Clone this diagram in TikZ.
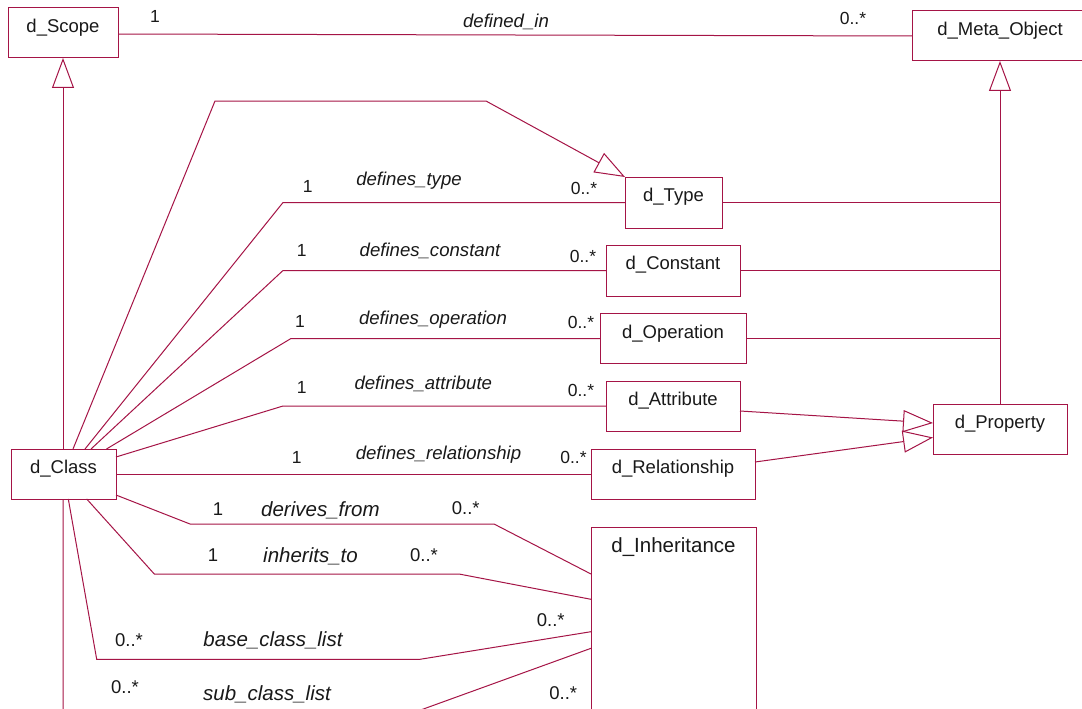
\documentclass[tikz,border=0pt]{standalone}
\usepackage{fontspec}
\setmainfont{Liberation Sans}
\usetikzlibrary{arrows.meta,calc}
\definecolor{umlline}{RGB}{165,20,70}
\definecolor{umltext}{RGB}{25,25,25}

\tikzset{
  classbox/.style 2 args={draw=umlline, line width=1pt, inner sep=0pt, outer sep=0pt,
    anchor=north west, minimum width=#1, text height=24.5pt, text depth=#2,
    font=\fontsize{18.5}{20}\selectfont, text=umltext},
  link/.style={draw=umlline, line width=1pt},
  gen/.style={link, -{Triangle[open, length=30pt, width=22pt]}},
  lbl/.style={inner sep=0pt, text=umltext, text height=0.72em, text depth=0pt, yshift=-1.5pt},
  mult/.style={lbl, font=\fontsize{17.5}{20}\selectfont},
  multb/.style={lbl, font=\fontsize{18.5}{20}\selectfont},
  role/.style={lbl, font=\fontsize{18.6}{20}\selectfont\itshape},
  roleb/.style={lbl, font=\fontsize{20.5}{22}\selectfont\itshape},
}

\begin{document}
\begin{tikzpicture}[x=1pt, y=-1pt]
\useasboundingbox (0,0) rectangle (1082,709);
\clip (0,0) rectangle (1082,709);
\fill[white] (0,0) rectangle (1082,709);

% classes
\node[classbox={110pt}{25.5pt}] (scope) at (8,8) {d\_Scope};
\node[classbox={176pt}{25.5pt}] (meta) at (912,11) {d\_Meta\_Object};
\node[classbox={97pt}{26.5pt}] (type) at (625,177) {d\_Type};
\node[classbox={134pt}{26.5pt}] (const) at (606,245) {d\_Constant};
\node[classbox={146pt}{25.5pt}] (oper) at (600,313.5) {d\_Operation};
\node[classbox={134pt}{25.5pt}] (attr) at (606,381) {d\_Attribute};
\node[classbox={164pt}{25.5pt}] (rel) at (591,449) {d\_Relationship};
\node[classbox={134pt}{25.5pt}] (prop) at (933,404) {d\_Property};
\node[classbox={105pt}{25.5pt}] (cls) at (11,449) {d\_Class};
\node[classbox={165pt}{200pt}, text height=25pt, font=\fontsize{20.5}{22}\selectfont] (inh) at (591,527.3) {d\_Inheritance};

% d_Scope -- d_Meta_Object
\draw[link] ($(scope.east)+(0,1)$) -- (meta.west);
\node[mult] (m0a) at (155,17) {1};
\node[role] (r0) at (506,22) {defined\_in};
\node[mult] (m0b) at (853,19) {0..*};

% generalizations
\draw[gen] ($(cls.north west)+(52,0)$) -- (scope.south);
\draw[gen] (prop.north) -- (meta.south);
\draw[link] (type.east) -- (type.east -| prop.north);
\draw[link] (const.east) -- (const.east -| prop.north);
\draw[link] (oper.east) -- (oper.east -| prop.north);
\draw[gen] ($(cls.north west)+(62,0)$) -- (215,101) -- (486,101) -- (type.north west);
\draw[gen] ($(attr.north east)+(0,30)$) -- ($(prop.north west)+(0,19)$);
\draw[gen] ($(rel.north east)+(0,13)$) -- ($(prop.north west)+(0,33.5)$);

% defines_* associations
\draw[link] ($(cls.north west)+(74,0)$) -- (283,202.5) -- (type.west);
\node[mult] (m1a) at (307.7,187.7) {1};
\node[role] (r1) at (409,180.5) {defines\_type};
\node[mult] (m1b) at (584,189) {0..*};

\draw[link] ($(cls.north west)+(80,0)$) -- (283,270.5) -- (const.west);
\node[mult] (m2a) at (301.7,251.7) {1};
\node[role] (r2) at (430,251) {defines\_constant};
\node[mult] (m2b) at (583,257) {0..*};

\draw[link] ($(cls.north west)+(95.5,0)$) -- (291,338.5) -- (oper.west);
\node[mult] (m3a) at (300,322.7) {1};
\node[role] (r3) at (433,319) {defines\_operation};
\node[mult] (m3b) at (581,323) {0..*};

\draw[link] ($(cls.north east)+(0,8)$) -- (283,406) -- (attr.west);
\node[mult] (m4a) at (301.7,388.3) {1};
\node[role] (r4) at (423.3,384.3) {defines\_attribute};
\node[mult] (m4b) at (581,391.7) {0..*};

\draw[link] (cls.east) -- (rel.west);
\node[mult] (m5a) at (296.7,458.3) {1};
\node[role] (r5) at (438.5,454.3) {defines\_relationship};
\node[mult] (m5b) at (573.5,458) {0..*};

% inheritance associations
\draw[link] ($(cls.north east)+(0,46)$) -- (190,524) -- (494,524) -- ($(inh.north west)+(0,46.7)$);
\node[multb] (m6a) at (218,510) {1};
\node[roleb, anchor=west] (r6) at (261,511.7) {derives\_from};
\node[multb] (m6b) at (465.7,509) {0..*};

\draw[link] ($(cls.south west)+(75.7,0)$) -- (154.3,574) -- (459,574) -- ($(inh.north west)+(0,72)$);
\node[multb] (m7a) at (213,556.7) {1};
\node[roleb, anchor=west] (r7) at (263,557) {inherits\_to};
\node[multb] (m7b) at (424,556.7) {0..*};

\draw[link] ($(cls.south west)+(57.3,0)$) -- (96.7,659.3) -- (420,659.3) -- ($(inh.north west)+(0,104.4)$);
\node[multb] (m8a) at (129,641.7) {0..*};
\node[roleb] (r8) at (273,641) {base\_class\_list};
\node[multb] (m8b) at (550.7,621.7) {0..*};

\draw[link] ($(cls.south west)+(52,0)$) -- (63,720) -- (393,720) -- ($(inh.north west)+(0,121)$);
\node[multb] (m9a) at (125,688) {0..*};
\node[roleb] (r9) at (267,695) {sub\_class\_list};
\node[multb] (m9b) at (563.3,694) {0..*};
\end{tikzpicture}
\end{document}
